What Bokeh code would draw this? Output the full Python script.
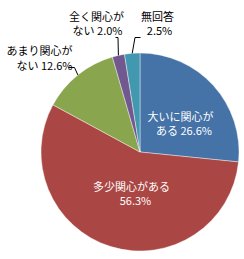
import math
from bokeh.plotting import figure
from bokeh.models import Range1d, ColumnDataSource
from bokeh.core.properties import value
from bokeh.embed import file_html
from bokeh.resources import INLINE

# ---- data ----
categories = ["大いに関心がある", "多少関心がある", "あまり関心がない", "全く関心がない", "無回答"]
percent = [26.6, 56.3, 12.6, 2.0, 2.5]

# ---- styles / layout ----
colors = ["#4572A7", "#AA4643", "#89A54E", "#71588F", "#4198AF"]
label_colors = ["#FFFFFF", "#FFFFFF", "#000000", "#000000", "#000000"]
split_at = [6, 7, 6, 5, 3]
line1_pos = [(180, 115), (131, 185), (39, 49), (96, 15), (157, 15)]
line2_pos = [(183.5, 129), (135, 199), (44, 64), (97, 29), (159, 29)]
leader_pts = [None, None, [(74, 67), (68, 67)], [(117.5, 37), (115, 37)], [(134.5, 37), (140, 37)]]

W, H = 244, 259
CX, CY, R = 139.5, 151.5, 99.0
FONT = value("Noto Sans CJK JP")


def fy(y):
    return H - y


total = sum(percent)
starts, ends, cum = [], [], 0.0
for v in percent:
    starts.append(math.pi / 2 - 2 * math.pi * cum / total)
    cum += v
    ends.append(math.pi / 2 - 2 * math.pi * cum / total)

p = figure(width=W, height=H, output_backend="svg", toolbar_location=None,
           x_range=Range1d(0, W), y_range=Range1d(0, H), min_border=0)
p.axis.visible = False
p.grid.visible = False
p.outline_line_color = None
p.background_fill_color = "white"
p.border_fill_color = "white"

src = ColumnDataSource(dict(start=starts, end=ends, color=colors, cat=categories))
p.wedge(x=CX, y=fy(CY), radius=R, start_angle="start", end_angle="end",
        direction="clock", fill_color="color", line_color="#FFFFFF",
        line_width=0.6, line_alpha=0.7, source=src)

# leader lines
lx, ly = [], []
for i, pts in enumerate(leader_pts):
    if pts is None:
        continue
    mid = (starts[i] + ends[i]) / 2
    ex = CX + R * math.cos(mid)
    ey = CY - R * math.sin(mid)
    xs = [ex] + [q[0] for q in pts]
    ys = [fy(ey)] + [fy(q[1]) for q in pts]
    lx.append(xs)
    ly.append(ys)
p.multi_line(xs=lx, ys=ly, line_color="#000000", line_width=1)

# labels
l1, l2 = [], []
for cat, v, s in zip(categories, percent, split_at):
    pct = f"{v:.1f}%"
    l1.append(cat[:s])
    rest = cat[s:]
    l2.append(f"{rest} {pct}" if rest else pct)

p.text(x=[q[0] for q in line1_pos], y=[fy(q[1]) for q in line1_pos], text=l1,
       text_color=label_colors, text_align="center", text_baseline="middle",
       text_font=FONT, text_font_size="11px")
p.text(x=[q[0] for q in line2_pos], y=[fy(q[1]) for q in line2_pos], text=l2,
       text_color=label_colors, text_align="center", text_baseline="middle",
       text_font=FONT, text_font_size="11px")

open("out.html", "w").write(file_html(p, INLINE))
